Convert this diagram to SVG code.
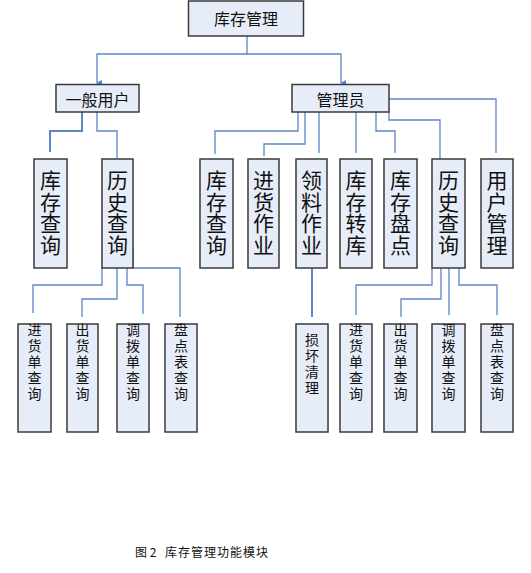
<svg xmlns="http://www.w3.org/2000/svg" width="531" height="573" viewBox="0 0 531 573">
<defs>
<style>
.box{fill:#E7EDF8;stroke:#3a3a3a;stroke-width:1.5}
.t{font-family:"Noto Sans CJK SC","Liberation Sans",sans-serif;fill:#111}
.h{font-size:16px;text-anchor:middle;dominant-baseline:central}
.v{font-size:21px;writing-mode:vertical-rl;letter-spacing:0.5px}
.s{font-size:14px;writing-mode:vertical-rl;letter-spacing:2px}
.c{fill:none;stroke:#5B86C8;stroke-width:1.3}
.cap{font-family:"Noto Sans CJK SC","Liberation Sans",sans-serif;font-size:12px;fill:#111}
</style>
<marker id="arr" markerWidth="6" markerHeight="6" refX="3" refY="5" orient="auto" markerUnits="userSpaceOnUse">
<path d="M0,0 L6,0 L3,6 Z" fill="#5B86C8"/>
</marker>
</defs>
<rect width="531" height="573" fill="#fff"/>

<g id="connectors">
<path class="c" d="M247,36 V54 H97 V83" marker-end="url(#arr)"/>
<path class="c" d="M247,54 H341 V83" marker-end="url(#arr)"/>
<path class="c" d="M82,112 V131 H50 V152" style="stroke-width:2"/>
<path class="c" d="M97,112 V131 H117 V158"/>
<path class="c" d="M298,112 V131 H215 V154"/>
<path class="c" d="M305,112 V144 H264 V156"/>
<path class="c" d="M319,112 V153"/>
<path class="c" d="M356,112 V153"/>
<path class="c" d="M376,112 V131 H395 V153"/>
<path class="c" d="M389,112 V120 H440 V159"/>
<path class="c" d="M389,99 H496 V153"/>
<path class="c" d="M102,268 V285 H33 V313"/>
<path class="c" d="M117,268 V299 H82 V317"/>
<path class="c" d="M127,268 V285 H143 V314"/>
<path class="c" d="M133,248 V268 H180 V317"/>
<path class="c" d="M312,268 V317" style="stroke-width:2"/>
<path class="c" d="M432,268 V285 H356 V315"/>
<path class="c" d="M441,268 V299 H401 V317"/>
<path class="c" d="M449,268 V315"/>
<path class="c" d="M459,268 V285 H497 V315"/>
</g>

<g id="n-root"><rect class="box" x="188.5" y="1" width="115" height="35"/><text class="t h" x="246" y="18">库存管理</text></g>
<g id="n-user"><rect class="box" x="56" y="84.5" width="83" height="27.5"/><text class="t h" x="97.5" y="99">一般用户</text></g>
<g id="n-admin"><rect class="box" x="292" y="84.5" width="97" height="27.5"/><text class="t h" x="340.5" y="99">管理员</text></g>

<g id="n-u-kccx"><rect class="box" x="34" y="159" width="33" height="109"/><text class="t v" x="50.5" y="170">库存查询</text></g>
<g id="n-u-lscx"><rect class="box" x="102" y="159" width="31" height="109"/><text class="t v" x="117.5" y="170">历史查询</text></g>

<g id="n-a-kccx"><rect class="box" x="200" y="159" width="33" height="109"/><text class="t v" x="216.5" y="170">库存查询</text></g>
<g id="n-a-jhzy"><rect class="box" x="248" y="159" width="31" height="109"/><text class="t v" x="263.5" y="170">进货作业</text></g>
<g id="n-a-llzy"><rect class="box" x="296" y="159" width="31" height="109"/><text class="t v" x="311.5" y="170">领料作业</text></g>
<g id="n-a-kczk"><rect class="box" x="340" y="159" width="32" height="109"/><text class="t v" x="356" y="170">库存转库</text></g>
<g id="n-a-kcpd"><rect class="box" x="384" y="159" width="33" height="109"/><text class="t v" x="400.5" y="170">库存盘点</text></g>
<g id="n-a-lscx"><rect class="box" x="432" y="159" width="33" height="109"/><text class="t v" x="448.5" y="170">历史查询</text></g>
<g id="n-a-yhgl"><rect class="box" x="481" y="159" width="32" height="109"/><text class="t v" x="497" y="170">用户管理</text></g>

<g id="n-u-jhd"><rect class="box" x="18" y="324" width="33" height="108"/><text class="t s" x="34.5" y="323">进货单查询</text></g>
<g id="n-u-chd"><rect class="box" x="67" y="324" width="31" height="108"/><text class="t s" x="82.5" y="323">出货单查询</text></g>
<g id="n-u-dbd"><rect class="box" x="117" y="324" width="32" height="108"/><text class="t s" x="133" y="323">调拨单查询</text></g>
<g id="n-u-pdb"><rect class="box" x="165" y="324" width="32" height="108"/><text class="t s" x="181" y="323">盘点表查询</text></g>

<g id="n-a-shql"><rect class="box" x="296" y="324" width="32" height="108"/><text class="t s" x="312" y="333">损坏清理</text></g>
<g id="n-a-jhd"><rect class="box" x="340" y="324" width="32" height="108"/><text class="t s" x="356" y="323">进货单查询</text></g>
<g id="n-a-chd"><rect class="box" x="384" y="324" width="33" height="108"/><text class="t s" x="400.5" y="323">出货单查询</text></g>
<g id="n-a-dbd"><rect class="box" x="432" y="324" width="33" height="108"/><text class="t s" x="448.5" y="323">调拨单查询</text></g>
<g id="n-a-pdb"><rect class="box" x="481" y="324" width="32" height="108"/><text class="t s" x="497" y="323">盘点表查询</text></g>

<text class="cap" x="135" y="557">图 2<tspan x="165" letter-spacing="1">库存管理功能模块</tspan></text>
</svg>
